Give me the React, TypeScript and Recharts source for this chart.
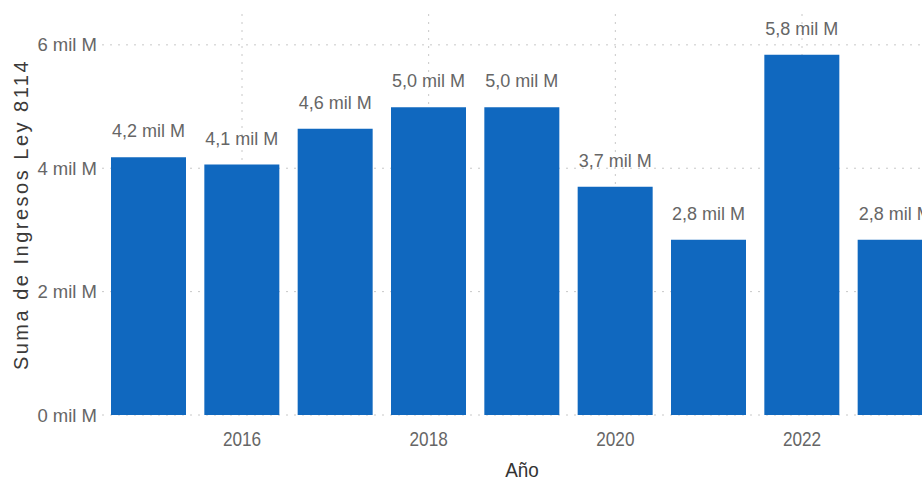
import React from "react";
import { BarChart, Bar, XAxis, YAxis, CartesianGrid, LabelList, Label } from "recharts";

const years = [2015, 2016, 2017, 2018, 2019, 2020, 2021, 2022, 2023];
const ingresos = [4.18, 4.06, 4.64, 4.99, 4.99, 3.7, 2.84, 5.84, 2.84];
const yearTicks = [2016, 2018, 2020, 2022];
const valueTicks = [0, 2, 4, 6];

const data = years.map((year, i) => ({ year, ingresos: ingresos[i] }));

const sans = "'Liberation Sans', Arial, sans-serif";
const fmt = (v: number) => `${v.toFixed(1).replace(".", ",")} mil M`;

// ticks del eje X algo más estrechos, como en el original
const YearTick = ({ x, y, payload }: any) => (
  <text
    transform={`translate(${x}, ${y + 31}) scale(0.86, 1)`}
    textAnchor="middle"
    fill="#666666"
    fontSize={20}
    fontFamily={sans}
  >
    {payload.value}
  </text>
);

const App = () => {
  return (
    <div style={{ position: "absolute", left: 0, top: 0, width: 922, height: 483, overflow: "hidden", background: "#fff" }}>
      <BarChart
        width={960}
        height={483}
        data={data}
        margin={{ top: 14, right: 18, bottom: 0, left: 0 }}
      >
        <CartesianGrid
          stroke="#c8c8c8"
          strokeDasharray="2 6"
          horizontalValues={valueTicks}
          verticalValues={yearTicks}
        />
        <XAxis
          dataKey="year"
          type="number"
          domain={[2014.5, 2023.5]}
          ticks={yearTicks}
          axisLine={false}
          tickLine={false}
          tickSize={0}
          tickMargin={0}
          height={68}
          tick={<YearTick />}
        >
          <Label
            content={({ viewBox }: any) => (
              <text
                transform={`translate(${viewBox.x + viewBox.width / 2}, 477) scale(0.9, 1)`}
                textAnchor="middle"
                fill="#333333"
                fontSize={21}
                fontFamily={sans}
              >
                Año
              </text>
            )}
          />
        </XAxis>
        <YAxis
          domain={[0, 6.5]}
          ticks={valueTicks}
          tickFormatter={(v: number) => `${v} mil M`}
          axisLine={false}
          tickLine={false}
          tickSize={0}
          tickMargin={5}
          width={102}
          tick={{ fill: "#666666", fontSize: 18.5, fontFamily: sans }}
        >
          <Label
            content={({ viewBox }: any) => (
              <text
                transform={`translate(28, ${viewBox.y + viewBox.height / 2}) rotate(-90)`}
                textAnchor="middle"
                fill="#3b3a39"
                fontSize={20}
                letterSpacing={2.5}
                fontFamily={sans}
              >
                Suma de Ingresos Ley 8114
              </text>
            )}
          />
        </YAxis>
        <Bar dataKey="ingresos" fill="#1068bf" barSize={75} isAnimationActive={false}>
          <LabelList
            dataKey="ingresos"
            position="top"
            offset={20}
            formatter={(v: any) => fmt(Number(v))}
            style={{ fill: "#666666", fontSize: 18, fontFamily: sans }}
          />
        </Bar>
      </BarChart>
    </div>
  );
};

export default App;
